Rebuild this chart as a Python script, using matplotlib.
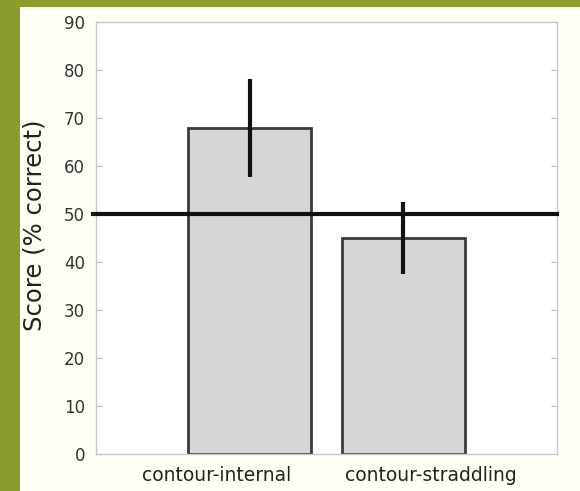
import matplotlib
matplotlib.use("Agg")
import matplotlib.pyplot as plt
from matplotlib.patches import Rectangle
from matplotlib.transforms import ScaledTranslation

conditions = ["contour-internal", "contour-straddling"]
scores = [68.0, 45.0]
errors = [10.2, 7.5]
chance = 50
y_ticks = [0, 10, 20, 30, 40, 50, 60, 70, 80, 90]

plt.rcParams["font.family"] = ["DejaVu Sans"]

fig = plt.figure(figsize=(5.8, 4.91), dpi=100)
fig.patch.set_facecolor("#FFFFF6")

# olive frame strips along the left and top edges
fig.patches.append(Rectangle((0, 0), 0.035, 1, transform=fig.transFigure,
                             facecolor="#8E9B2C", edgecolor="none", zorder=-5))
fig.patches.append(Rectangle((0, 0.985), 1, 0.015, transform=fig.transFigure,
                             facecolor="#8E9B2C", edgecolor="none", zorder=-5))

ax = fig.add_axes([0.1655, 0.0754, 0.7945, 0.8796])
ax.set_facecolor("white")

x = [1, 2]
ax.bar(x, scores, width=0.8, color="#D6D6D6", edgecolor="#3A3A3A",
       linewidth=2, zorder=2)
ax.errorbar(x, scores, yerr=errors, fmt="none", ecolor="#111111",
            elinewidth=3, capsize=0, zorder=3)
ax.plot([-0.02, 3], [chance, chance], color="#111111", linewidth=3,
        clip_on=False, zorder=4)

ax.set_xlim(0, 3)
ax.set_ylim(0, 90)
ax.set_yticks(y_ticks)
ax.set_xticks(x)
ax.set_xticklabels(conditions, fontsize=13.5, color="#222222")
ax.tick_params(axis="x", length=0, pad=9)
ax.tick_params(axis="y", direction="in", length=4, color="#BBBBBB",
               labelsize=12, labelcolor="#333333", right=True, pad=8)

# spread the category labels apart so they do not crowd each other
shifts = [-0.33, 0.28]
for lab, dx in zip(ax.get_xticklabels(), shifts):
    lab.set_transform(lab.get_transform() +
                      ScaledTranslation(dx, 0, fig.dpi_scale_trans))

for s in ax.spines.values():
    s.set_color("#C8C8C8")
    s.set_linewidth(1)
ax.set_ylabel("Score (% correct)", fontsize=17.5, color="#222222")
ax.yaxis.set_label_coords(-0.108, 0.53)

fig.savefig("out.png", dpi=100, facecolor=fig.get_facecolor())
